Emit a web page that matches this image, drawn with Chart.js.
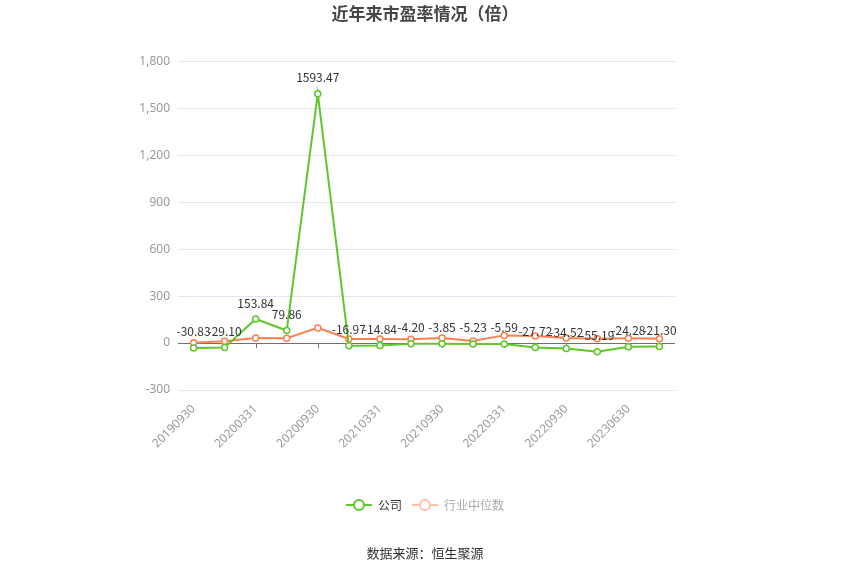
<!DOCTYPE html>
<html>
<head>
<meta charset="utf-8">
<script src="https://cdn.jsdelivr.net/npm/chart.js@4.4.1/dist/chart.umd.min.js"></script>
<style>
  html, body { margin: 0; padding: 0; background: #fff; }
  #wrap { width: 850px; height: 575px; }
</style>
</head>
<body>
<div id="wrap"><canvas id="pe" width="850" height="575"></canvas></div>
<script>
// 报告期
var periods = ["20190930","20191231","20200331","20200630","20200930","20201231",
               "20210331","20210630","20210930","20211231","20220331","20220630",
               "20220930","20221231","20230630","20230930"];
// 公司市盈率
var companyPE = [-30.83,-29.10,153.84,79.86,1593.47,-16.97,-14.84,-4.20,
                 -3.85,-5.23,-5.59,-27.72,-34.52,-55.19,-24.28,-21.30];
// 行业中位数（图上估读）
var industryPE = [1.2,11,32,31,97,26,26,24,32,13,49,45,32,28,30,28];
var yTicks = [-300,0,300,600,900,1200,1500,1800];

var GREEN = "#5ec72a";
var ORANGE = "#fa8050";

function legendIcon(color) {
    var c = document.createElement("canvas");
    c.width = 26; c.height = 14;
    var g = c.getContext("2d");
    g.strokeStyle = color;
    g.lineWidth = 2;
    g.beginPath(); g.moveTo(0, 7); g.lineTo(26, 7); g.stroke();
    g.fillStyle = "#fff";
    g.beginPath(); g.arc(13, 7, 5, 0, Math.PI * 2); g.fill(); g.stroke();
    return c;
}

// 零线下方的刻度
var zeroTicks = {
    id: "zeroTicks",
    beforeDatasetsDraw: function (chart) {
        var ctx = chart.ctx, x = chart.scales.x, y = chart.scales.y;
        var y0 = y.getPixelForValue(0);
        ctx.save();
        ctx.strokeStyle = "#6e7079";
        ctx.lineWidth = 1;
        for (var i = 0; i < periods.length; i += 2) {
            var px = Math.round(x.getPixelForValue(i)) + 0.5;
            ctx.beginPath(); ctx.moveTo(px, y0); ctx.lineTo(px, y0 + 5); ctx.stroke();
        }
        ctx.restore();
    }
};

// 公司数值标签 + 数据来源
var valueLabels = {
    id: "valueLabels",
    afterDatasetsDraw: function (chart) {
        var ctx = chart.ctx;
        var meta = chart.getDatasetMeta(0);
        ctx.save();
        ctx.font = "12px 'Noto Sans CJK SC', sans-serif";
        ctx.fillStyle = "#333";
        ctx.textAlign = "center";
        ctx.textBaseline = "bottom";
        meta.data.forEach(function (pt, i) {
            ctx.fillText(companyPE[i].toFixed(2), pt.x, pt.y - 10);
        });
        ctx.restore();
    },
    afterDraw: function (chart) {
        var ctx = chart.ctx;
        ctx.save();
        ctx.font = "13px 'Noto Sans CJK SC', sans-serif";
        ctx.fillStyle = "#333";
        ctx.textAlign = "center";
        ctx.textBaseline = "middle";
        ctx.fillText("数据来源：恒生聚源", 425, 553);
        ctx.restore();
    }
};

new Chart(document.getElementById("pe"), {
    type: "line",
    data: {
        labels: periods,
        datasets: [
            {
                label: "公司",
                data: companyPE,
                borderColor: GREEN,
                backgroundColor: "#fff",
                borderWidth: 2,
                pointRadius: 3,
                pointBorderWidth: 1.5,
                pointBackgroundColor: "#fff",
                pointBorderColor: GREEN,
                tension: 0
            },
            {
                label: "行业中位数",
                data: industryPE,
                borderColor: ORANGE,
                backgroundColor: "#fff",
                borderWidth: 2,
                pointRadius: 3,
                pointBorderWidth: 1.5,
                pointBackgroundColor: "#fff",
                pointBorderColor: ORANGE,
                tension: 0
            }
        ]
    },
    options: {
        responsive: false,
        animation: false,
        layout: { padding: { left: 120, right: 120, top: 0, bottom: 54 } },
        plugins: {
            title: {
                display: true,
                text: "近年来市盈率情况（倍）",
                color: "#464646",
                font: { size: 17, weight: "bold", family: "'Noto Sans CJK SC', sans-serif" },
                padding: { top: 3, bottom: 38 }
            },
            legend: {
                position: "bottom",
                labels: {
                    usePointStyle: true,
                    pointStyleWidth: 26,
                    boxHeight: 14,
                    padding: 10,
                    font: { size: 12, family: "'Noto Sans CJK SC', sans-serif" },
                    generateLabels: function () {
                        return [
                            { text: "公司", pointStyle: legendIcon(GREEN), fontColor: "#333",
                              datasetIndex: 0, hidden: false, lineWidth: 0 },
                            { text: "行业中位数", pointStyle: legendIcon("#fcc0a5"), fontColor: "#aaa",
                              datasetIndex: 1, hidden: false, lineWidth: 0 }
                        ];
                    }
                }
            },
            tooltip: { enabled: false }
        },
        scales: {
            x: {
                offset: true,
                grid: { display: false },
                border: { display: false },
                ticks: {
                    autoSkip: false,
                    maxRotation: 45,
                    minRotation: 45,
                    color: "#999",
                    padding: 4,
                    font: { size: 12, family: "'Noto Sans', sans-serif" },
                    callback: function (v, i) { return i % 2 === 0 ? periods[i] : ""; }
                },
                afterFit: function (s) { s.height = 99; }
            },
            y: {
                min: -300,
                max: 1800,
                afterBuildTicks: function (s) { s.ticks = yTicks.map(function (v) { return { value: v }; }); },
                border: { display: false },
                grid: {
                    drawTicks: false,
                    color: function (c) { return c.tick && c.tick.value === 0 ? "#6e7079" : "#e0e6f1"; }
                },
                ticks: {
                    color: "#999",
                    padding: 8,
                    font: { size: 12, family: "'Noto Sans', sans-serif" },
                    callback: function (v) { return v.toLocaleString("en-US"); }
                },
                afterFit: function (s) { s.width = 58; }
            },
            // 右侧留白，使标题和图例居中
            yRight: {
                type: "linear",
                position: "right",
                grid: { display: false },
                border: { display: false },
                ticks: { display: false },
                afterFit: function (s) { s.width = 55; }
            }
        }
    },
    plugins: [zeroTicks, valueLabels]
});
</script>
</body>
</html>
